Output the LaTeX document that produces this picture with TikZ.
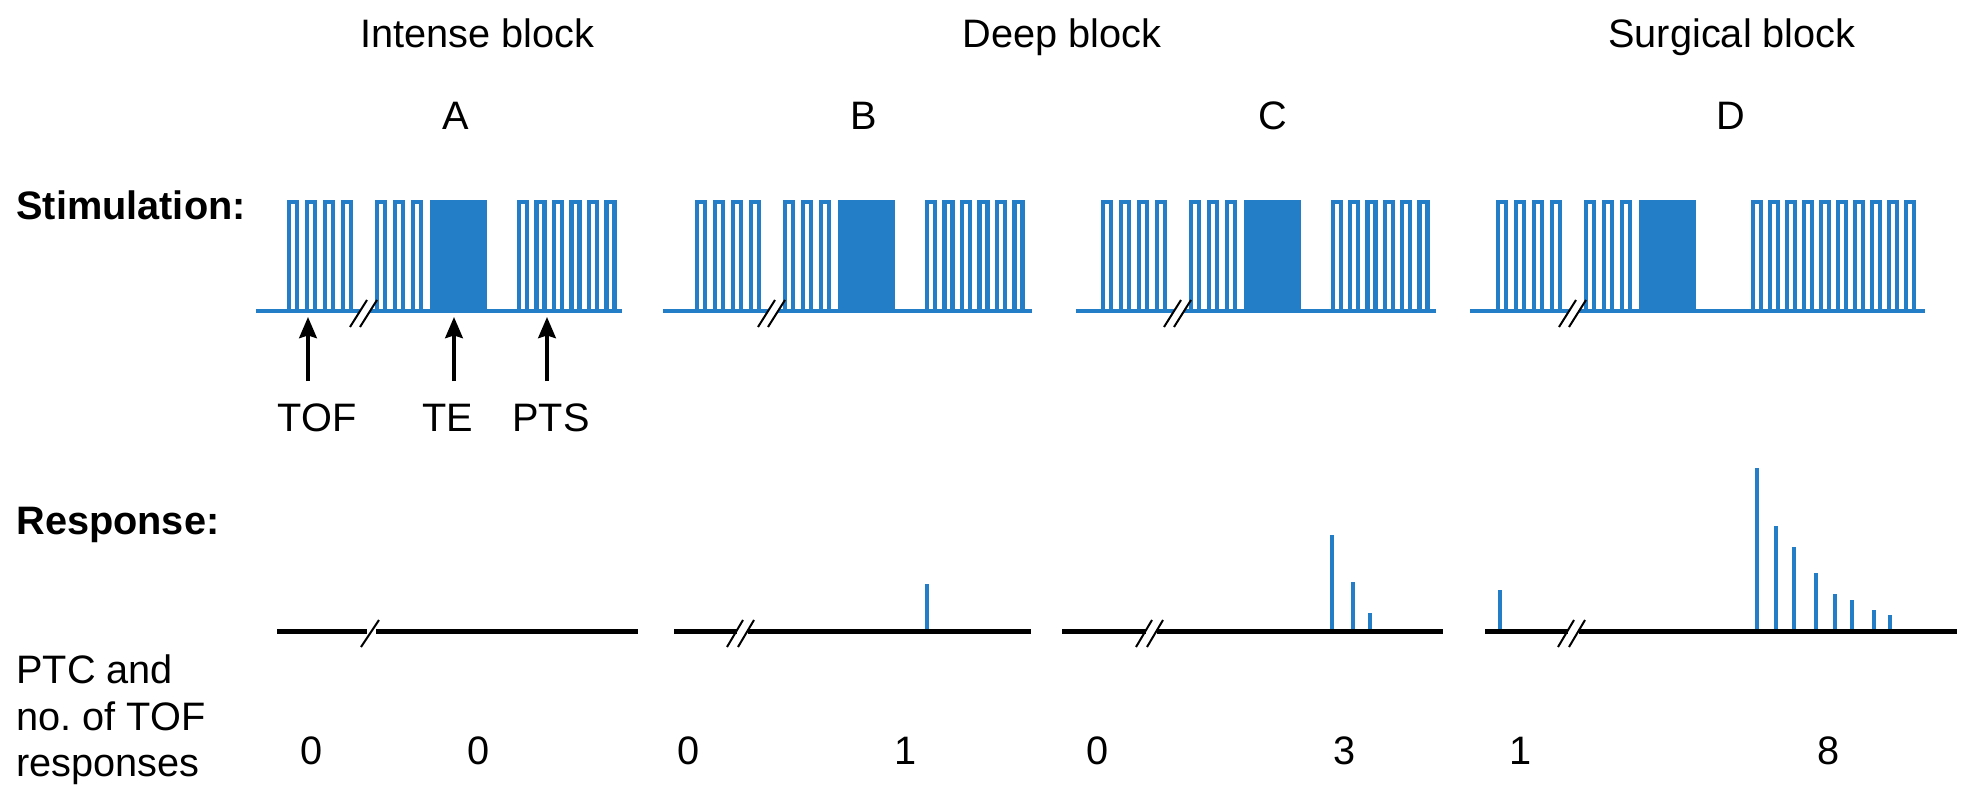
\documentclass[tikz,border=0pt]{standalone}
\usepackage{fontspec}
\setmainfont{Liberation Sans}
\usepackage{xcolor}
\usetikzlibrary{arrows.meta}

\definecolor{stimblue}{RGB}{36,126,199}

\newcommand{\lab}{\fontsize{22.6}{26.8}\selectfont}

\tikzset{
  stim/.style={draw=stimblue, line width=0.085cm},
  baseln/.style={draw=black, line width=0.1cm},
  resp/.style={draw=stimblue, line width=0.075cm},
  brk/.style={draw=black, line width=0.04cm},
  txt/.style={font=\lab, inner sep=0pt, anchor=base},
  side/.style={font=\lab, inner sep=0pt, anchor=base west},
  ptr/.style={draw=black, line width=0.075cm, -{Stealth[length=12pt,width=10pt,inset=1.5pt]}},
}

% one stimulation trace: shift, lead start, PTS start, PTS count, PTS period, end
\newcommand{\stimpanel}[6]{%
  % baseline, broken at the // mark
  \draw[stim] (#2,311) -- ({#1+360},311);
  \draw[stim] ({#1+370},311) -- (#6,311);
  % TOF
  \foreach \k in {0,...,3}
    \draw[stim] ({#1+289+18*\k},311) |- ++(8,-109) -- ++(0,109);
  \foreach \k in {0,...,2}
    \draw[stim] ({#1+377+18*\k},311) |- ++(8,-109) -- ++(0,109);
  % tetanus
  \filldraw[stim, fill=stimblue] ({#1+432},311) rectangle ({#1+485},202);
  % PTS
  \foreach \k in {1,...,#4}
    \draw[stim] ({#3+#5*(\k-1)},311) |- ++(8,-109) -- ++(0,109);
  % break mark
  \draw[brk] ({#1+350},327) -- ({#1+367},300);
  \draw[brk] ({#1+360},327) -- ({#1+377},300);
}

% response baseline with a // mark at #2: start, centre of mark, end
\newcommand{\respline}[3]{%
  \draw[baseln] (#1,631) -- ({#2-5.5},631);
  \draw[baseln] ({#2+5.5},631) -- (#3,631);
  \draw[brk] ({#2-15},647) -- ({#2+1},620);
  \draw[brk] ({#2-4},647) -- ({#2+12},620);
}

\begin{document}
\begin{tikzpicture}[x=0.02cm, y=-0.02cm]
    \useasboundingbox (0,0) rectangle (1977,804);

    % Headings
    \node[txt] (intense) at (477,48) {Intense block};
    \node[txt] (deep) at (1062,48) {Deep block};
    \node[txt] (surgical) at (1732,48) {Surgical block};

    \node[txt] (pA) at (456,130) {A};
    \node[txt] (pB) at (864,130) {B};
    \node[txt] (pC) at (1273,130) {C};
    \node[txt] (pD) at (1731,130) {D};

    % Row labels
    \node[side, font=\lab\bfseries] (stimlbl) at (16,219) {Stimulation:};
    \node[side, font=\lab\bfseries] (resplbl) at (16,534) {Response:};
    \node[side] (ptc1) at (16,683) {PTC and};
    \node[side] (ptc2) at (16,730) {no.\ of TOF};
    \node[side] (ptc3) at (16,776) {responses};

    % Stimulation traces
    \stimpanel{0}{256}{519}{6}{17.5}{622}
    \stimpanel{408}{663}{927}{6}{17.5}{1032}
    \stimpanel{814}{1076}{1333}{6}{17.3}{1436}
    \stimpanel{1209}{1470}{1753}{10}{17}{1925}

    % Pointers under panel A
    \node[txt] (tof) at (317,431) {TOF};
    \node[txt] (te) at (448,431) {TE};
    \node[txt] (pts) at (551,431) {PTS};
    \coordinate (tofhead) at (308,317);
    \coordinate (toftail) at (308,381);
    \coordinate (tehead) at (454,317);
    \coordinate (tetail) at (454,381);
    \coordinate (ptshead) at (547,317);
    \coordinate (ptstail) at (547,381);
    \draw[ptr] (toftail) -- (tofhead);
    \draw[ptr] (tetail) -- (tehead);
    \draw[ptr] (ptstail) -- (ptshead);

    % Responses
    \draw[baseln] (277,631) -- (367,631);
    \draw[baseln] (376,631) -- (638,631);
    \draw[brk] (361,647) -- (379,620);
    \respline{674}{742}{1031}
    \respline{1062}{1151}{1443}
    \respline{1485}{1573}{1957}

    \draw[resp] (927,629) -- (927,584);
    \foreach \x/\top in {1332/535, 1353/582, 1370/613}
      \draw[resp] (\x,629) -- (\x,\top);
    \foreach \x/\top in {1500/590, 1757/468, 1776/526, 1794/547, 1816/573,
                         1835/594, 1852/600, 1874/610, 1890/615}
      \draw[resp] (\x,629) -- (\x,\top);

    % Counts
    \node[txt] (nA1) at (312,764) {0};
    \node[txt] (nA2) at (479,764) {0};
    \node[txt] (nB1) at (689,764) {0};
    \node[txt] (nB2) at (906,764) {1};
    \node[txt] (nC1) at (1098,764) {0};
    \node[txt] (nC2) at (1345,764) {3};
    \node[txt] (nD1) at (1521,764) {1};
    \node[txt] (nD2) at (1829,764) {8};
\end{tikzpicture}
\end{document}
